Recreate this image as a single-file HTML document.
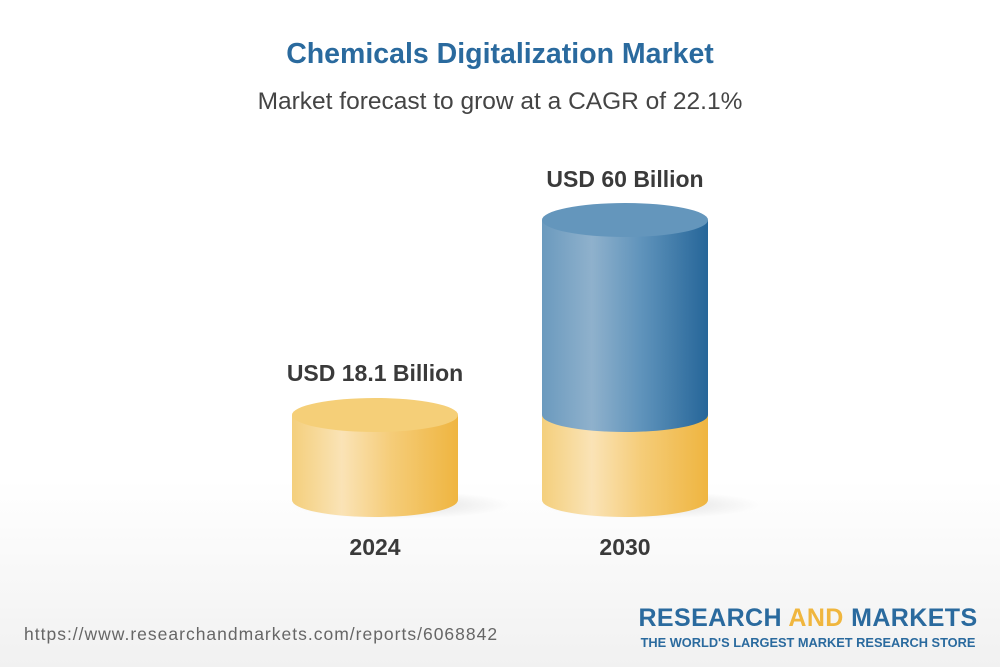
<!DOCTYPE html>
<html><head><style>
body{margin:0;width:1000px;height:667px;overflow:hidden;font-family:"Liberation Sans",Arial,sans-serif;background:linear-gradient(#ffffff 0,#ffffff 480px,#f1f1f1 667px);position:relative}
.t{position:absolute;left:0;width:1000px;text-align:center;white-space:nowrap}
</style></head><body>
<div class="t" style="top:38px;font-size:28.5px;font-weight:bold;color:#2a6a9e">Chemicals Digitalization Market</div>
<div class="t" style="top:88px;font-size:24.5px;color:#444">Market forecast to grow at a CAGR of 22.1%</div>
<svg width="1000" height="667" style="position:absolute;left:0;top:0">
<defs>
<linearGradient id="y" x1="0" x2="1"><stop offset="0" stop-color="#f4cf7c"/><stop offset=".3" stop-color="#fae3b6"/><stop offset=".6" stop-color="#f5cc78"/><stop offset="1" stop-color="#efb540"/></linearGradient>
<linearGradient id="b" x1="0" x2="1"><stop offset="0" stop-color="#6b9abe"/><stop offset=".3" stop-color="#8fb1cc"/><stop offset=".6" stop-color="#5f93bb"/><stop offset="1" stop-color="#266699"/></linearGradient>
<radialGradient id="s"><stop offset="0" stop-color="#000" stop-opacity=".12"/><stop offset="1" stop-color="#000" stop-opacity="0"/></radialGradient>
</defs>
<ellipse cx="400" cy="505" rx="110" ry="14" fill="url(#s)"/>
<ellipse cx="650" cy="505" rx="110" ry="14" fill="url(#s)"/>
<path d="M292 415 V500 A83 17 0 0 0 458 500 V415 Z" fill="url(#y)"/>
<ellipse cx="375" cy="415" rx="83" ry="17" fill="#f5cf78"/>
<path d="M542 415 V500 A83 17 0 0 0 708 500 V415 Z" fill="url(#y)"/>
<path d="M542 220 V415 A83 17 0 0 0 708 415 V220 Z" fill="url(#b)"/>
<ellipse cx="625" cy="220" rx="83" ry="17" fill="#6496bc"/>
</svg>
<div class="t" style="top:360px;left:-125px;font-size:23px;font-weight:bold;color:#3a3a3a">USD 18.1 Billion</div>
<div class="t" style="top:166px;left:125px;font-size:23px;font-weight:bold;color:#3a3a3a">USD 60 Billion</div>
<div class="t" style="top:534px;left:-125px;font-size:23px;font-weight:bold;color:#3a3a3a">2024</div>
<div class="t" style="top:534px;left:125px;font-size:23px;font-weight:bold;color:#3a3a3a">2030</div>
<div style="position:absolute;left:24px;top:624px;font-size:17.5px;letter-spacing:1px;color:#666;white-space:nowrap">https://www.researchandmarkets.com/reports/6068842</div>
<div style="position:absolute;left:621px;top:604px;width:374px;text-align:center;font-size:25px;font-weight:bold;color:#2a6a9e;letter-spacing:.4px;white-space:nowrap">RESEARCH <span style="color:#f0b63e">AND</span> MARKETS</div>
<div style="position:absolute;left:621px;top:635px;width:374px;text-align:center;font-size:12.8px;font-weight:bold;color:#2a6a9e;white-space:nowrap">THE WORLD'S LARGEST MARKET RESEARCH STORE</div>
</body></html>
